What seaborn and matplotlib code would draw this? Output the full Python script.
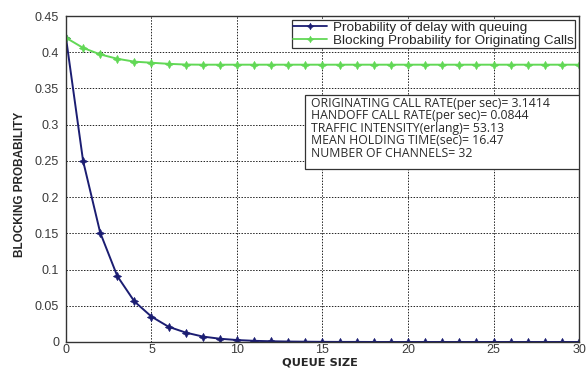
import matplotlib
matplotlib.use("Agg")
import matplotlib.pyplot as plt
from matplotlib.lines import Line2D
from matplotlib.patches import Rectangle
import seaborn as sns
import pandas as pd

# Queue sizes 0..30
queue_size = list(range(31))

# Probability of delay with queuing
p_delay = [0.420, 0.250, 0.151, 0.091, 0.056, 0.035, 0.021, 0.013, 0.0075,
           0.0045, 0.0027, 0.0016, 0.0010, 0.0006, 0.0004, 0.0002, 0.0001,
           0.0001, 0.0, 0.0, 0.0, 0.0, 0.0, 0.0, 0.0, 0.0, 0.0, 0.0, 0.0,
           0.0, 0.0]

# Blocking probability for originating calls
p_block = [0.420, 0.406, 0.397, 0.391, 0.387, 0.3855, 0.3840, 0.3830, 0.3828,
           0.3828, 0.3828, 0.3828, 0.3828, 0.3828, 0.3828, 0.3828, 0.3828,
           0.3828, 0.3828, 0.3828, 0.3828, 0.3828, 0.3828, 0.3828, 0.3828,
           0.3828, 0.3828, 0.3828, 0.3828, 0.3828, 0.3828]

series_names = ["Probability of delay with queuing",
                "Blocking Probability for Originating Calls"]

info_lines = ["ORIGINATING CALL RATE(per sec)= 3.1414",
              "HANDOFF CALL RATE(per sec)= 0.0844",
              "TRAFFIC INTENSITY(erlang)= 53.13",
              "MEAN HOLDING TIME(sec)= 16.47",
              "NUMBER OF CHANNELS= 32"]

x_ticks = [0, 5, 10, 15, 20, 25, 30]
y_ticks = [0, 0.05, 0.1, 0.15, 0.2, 0.25, 0.3, 0.35, 0.4, 0.45]
y_tick_labels = ["0", "0.05", "0.1", "0.15", "0.2", "0.25", "0.3", "0.35", "0.4", "0.45"]

sns.set_style("white")
plt.rcParams["font.family"] = ["Liberation Sans", "DejaVu Sans"]

df = pd.DataFrame({
    "queue": queue_size * 2,
    "prob": p_delay + p_block,
    "series": [series_names[0]] * len(queue_size) + [series_names[1]] * len(queue_size),
})

fig = plt.figure(figsize=(5.87, 3.69), dpi=100)
ax = fig.add_axes([0.1124, 0.0732, 0.874, 0.8834])

star = (4, 1, 0)
palette = {series_names[0]: "#1b1d72", series_names[1]: "#62d856"}
sns.lineplot(data=df, x="queue", y="prob", hue="series", palette=palette,
             marker=star, markersize=6, markeredgewidth=0.4, linewidth=1.4,
             ax=ax, legend=False)
for ln, name in zip(ax.lines, series_names):
    ln.set_markeredgecolor(palette[name])

ax.set_xlim(0, 30)
ax.set_ylim(0, 0.45)
ax.set_xticks(x_ticks)
ax.set_yticks(y_ticks)
ax.set_yticklabels(y_tick_labels)
ax.tick_params(axis="both", labelsize=9, colors="#3a3a3a", length=0)
ax.tick_params(axis="x", pad=1.5)
ax.tick_params(axis="y", pad=5)
ax.grid(True, linestyle=(0, (1.5, 1.5)), color="#222222", linewidth=0.7)
for s in ax.spines.values():
    s.set_color("#333333")
    s.set_linewidth(1.0)

ax.set_xlabel("QUEUE SIZE", fontsize=8.2, fontweight="bold",
              family=["DejaVu Sans"], va="center")
ax.xaxis.set_label_coords(0.495, -0.063)
ax.set_ylabel("BLOCKING PROBABILITY", fontsize=8.5, fontweight="bold",
              va="center")
ax.yaxis.set_label_coords(-0.089, 0.485)

handles = [Line2D([], [], color=palette[n], marker=star, markersize=5,
                  markeredgewidth=0.3, linewidth=1.3) for n in series_names]
leg = ax.legend(handles, series_names, loc="upper right",
                bbox_to_anchor=(0.992, 0.988), fontsize=9.7, frameon=True,
                fancybox=False, framealpha=1, edgecolor="#333333",
                borderpad=0.12, labelspacing=0.02, handlelength=2.5,
                handletextpad=0.4, borderaxespad=0)
leg.get_frame().set_linewidth(0.9)

# Parameter box
ax.add_patch(Rectangle((0.466, 0.530), 0.534, 0.229, transform=ax.transAxes,
                       facecolor="white", edgecolor="#333333", linewidth=0.9,
                       zorder=4))
for i, line in enumerate(info_lines):
    ax.text(0.478, 0.733 - i * 0.0387, line, transform=ax.transAxes,
            fontsize=8.8, va="center", ha="left",
            family=["Open Sans", "DejaVu Sans"], color="#2a2a2a", zorder=5)

fig.savefig("out.png", dpi=100)
